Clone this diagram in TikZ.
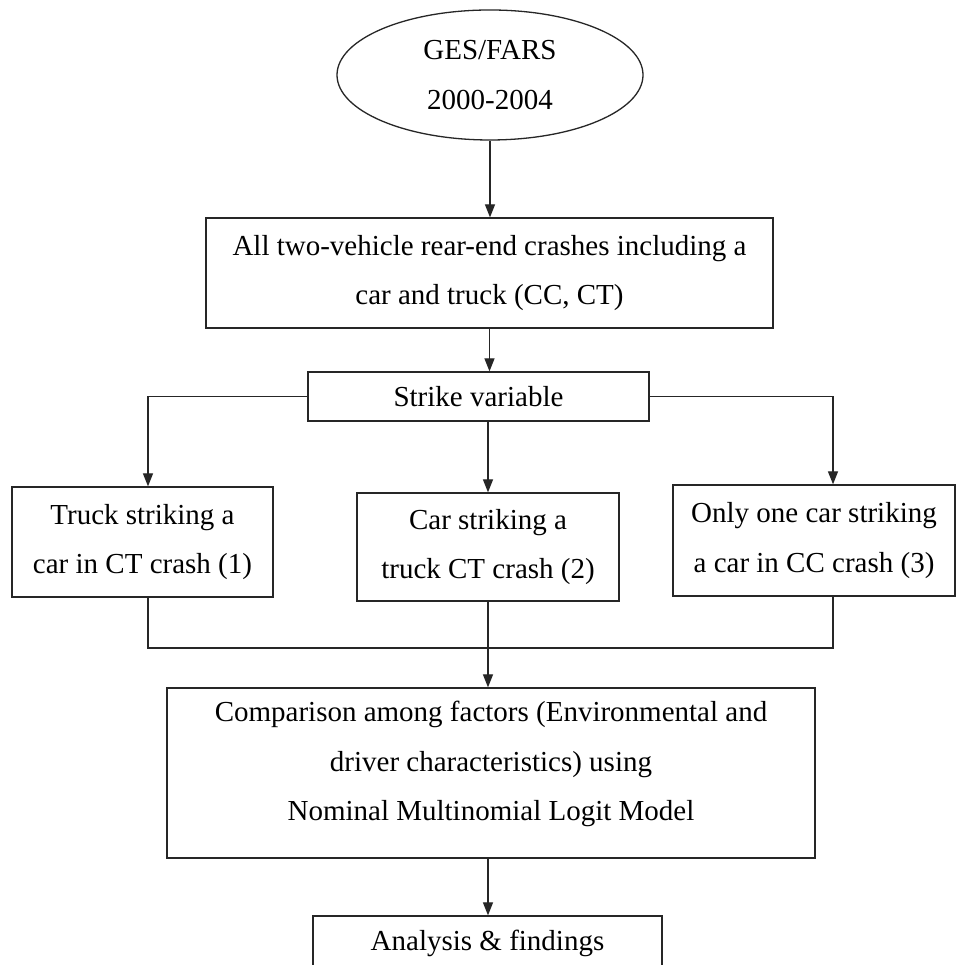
\documentclass[tikz,border=0pt]{standalone}
\usepackage{fontspec}
\setmainfont{Liberation Serif}
\usetikzlibrary{shapes.geometric,arrows.meta}
\tikzset{
  base/.style={draw=black!85, line width=1.3pt, inner sep=0pt, align=center,
    font=\fontsize{29}{49.5}\selectfont},
  boxnode/.style={base, rectangle},
  ovalnode/.style={base, ellipse},
  txt/.style={inner sep=0pt, align=center, font=\fontsize{29}{49.5}\selectfont},
  conn/.style={draw=black!85, line width=1.3pt},
  arr/.style={conn, -{Triangle[length=13pt,width=10pt]}}
}
\begin{document}
\begin{tikzpicture}[x=1pt,y=1pt]
\useasboundingbox (0,0) rectangle (956,965);
\clip (0,0) rectangle (956,965);
\fill[white] (0,0) rectangle (956,965);

\node[ovalnode, minimum width=306pt, minimum height=130pt] (ell) at (490,890) {GES/FARS\\2000-2004};
\node[boxnode, minimum width=567pt, minimum height=110pt] (box1) at (489.5,692)
  {All two-vehicle rear-end crashes including a\\car and truck (CC, CT)};
\node[boxnode, minimum width=341pt, minimum height=49pt] (strike) at (478.5,568.5) {Strike variable};
\node[boxnode, minimum width=261pt, minimum height=110pt] (lbox) at (142.5,423)
  {Truck striking a\\car in CT crash (1)};
\node[boxnode, minimum width=262pt, minimum height=108pt] (mbox) at (488,418)
  {Car striking a\\truck CT crash (2)};
\node[boxnode, minimum width=282pt, minimum height=111pt] (rbox) at (814,424.5)
  {Only one car striking\\a car in CC crash (3)};
\node[boxnode, minimum width=648pt, minimum height=170pt] (comp) at (491,192) {};
\node[txt] (comptext) at (491,201)
  {Comparison among factors (Environmental and\\driver characteristics) using\\Nominal Multinomial Logit Model};
\node[boxnode, minimum width=349pt, minimum height=54pt] (ana) at (487.5,22) {Analysis \& findings};

\coordinate (lx) at ([xshift=5.5pt]lbox.north);
\coordinate (rx) at ([xshift=19pt]rbox.north);
\coordinate (lb) at ([xshift=5.5pt]lbox.south);
\coordinate (rb) at ([xshift=19pt]rbox.south);
\coordinate (jl) at (148,317);
\coordinate (jr) at (833,317);

\draw[arr] (ell.south) -- (ell.south |- box1.north);
\draw[arr] (box1.south) -- (box1.south |- strike.north);
\draw[arr] (strike.west) -| (lx);
\draw[arr] (strike.east) -| (rx);
\draw[arr] (mbox.north |- strike.south) -- (mbox.north);
\draw[conn] (lb) -- (jl) -- (jr) -- (rb);
\draw[arr] (mbox.south) -- (mbox.south |- comp.north);
\draw[arr] (mbox.south |- comp.south) -- (mbox.south |- ana.north);
\end{tikzpicture}
\end{document}
